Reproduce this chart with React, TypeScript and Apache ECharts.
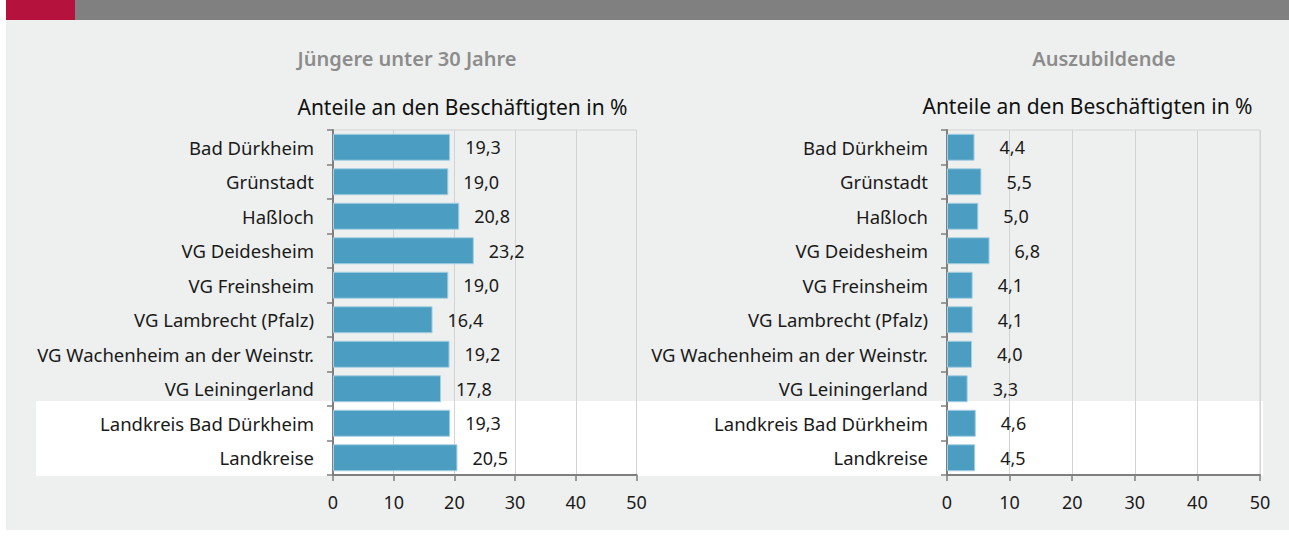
import React, { useEffect, useRef } from "react";
import * as echarts from "echarts";

const categories = [
  "Bad Dürkheim",
  "Grünstadt",
  "Haßloch",
  "VG Deidesheim",
  "VG Freinsheim",
  "VG Lambrecht (Pfalz)",
  "VG Wachenheim an der Weinstr.",
  "VG Leiningerland",
  "Landkreis Bad Dürkheim",
  "Landkreise",
];
const youngShare = [19.3, 19.0, 20.8, 23.2, 19.0, 16.4, 19.2, 17.8, 19.3, 20.5];
const traineeShare = [4.4, 5.5, 5.0, 6.8, 4.1, 4.1, 4.0, 3.3, 4.6, 4.5];
const leftTitle = "Jüngere unter 30 Jahre";
const rightTitle = "Auszubildende";
const subTitle = "Anteile an den Beschäftigten in %";

const FONT = "Noto Sans";
const AXIS_DARK = "#7f7f7f";
const GRID_LIGHT = "#d3d3d3";
const BAR = "#4b9ec1";

function fmt(v: number) {
  return v.toFixed(1).replace(".", ",");
}

export default function App() {
  const ref = useRef<HTMLDivElement>(null);
  useEffect(() => {
    if (!ref.current) return;
    const chart = echarts.init(ref.current, undefined, { renderer: "svg" });
    const xAxisBase = (gridIndex: number) => ({
      type: "value" as const,
      gridIndex,
      min: 0,
      max: 50,
      interval: 10,
      axisLine: { show: true, lineStyle: { color: AXIS_DARK, width: 2 } },
      axisTick: { show: true, length: 6, lineStyle: { color: AXIS_DARK, width: 1.5 } },
      axisLabel: { color: "#1a1a1a", fontFamily: FONT, fontSize: 18, margin: 18 },
      splitLine: { show: true, lineStyle: { color: GRID_LIGHT, width: 1 } },
    });
    const yAxisBase = (gridIndex: number) => ({
      type: "category" as const,
      gridIndex,
      data: categories,
      inverse: true,
      axisLine: { show: true, lineStyle: { color: AXIS_DARK, width: 2 } },
      axisTick: { show: true, length: 6, lineStyle: { color: AXIS_DARK, width: 1.5 } },
      axisLabel: { color: "#1a1a1a", fontFamily: FONT, fontSize: 18.5, margin: 19 },
      splitLine: { show: false },
    });
    const barSeries = (idx: number, data: number[], dist: number) => ({
      type: "bar" as const,
      xAxisIndex: idx,
      yAxisIndex: idx,
      data,
      barWidth: 27,
      itemStyle: { color: BAR, borderColor: "#a6cfe2", borderWidth: 1 },
      label: {
        show: true,
        position: "right" as const,
        distance: dist,
        color: "#1a1a1a",
        fontFamily: FONT,
        fontSize: 18,
        formatter: (p: any) => fmt(p.value),
      },
    });
    chart.setOption({
      animation: false,
      backgroundColor: "#ffffff",
      grid: [
        { left: 333, right: 1289 - 636.5, top: 130, bottom: 539 - 475, show: true, borderColor: GRID_LIGHT, borderWidth: 1, backgroundColor: "transparent" },
        { left: 947, right: 1289 - 1260, top: 130, bottom: 539 - 475, show: true, borderColor: GRID_LIGHT, borderWidth: 1, backgroundColor: "transparent" },
      ],
      xAxis: [xAxisBase(0), xAxisBase(1)],
      yAxis: [yAxisBase(0), yAxisBase(1)],
      series: [barSeries(0, youngShare, 15), barSeries(1, traineeShare, 25)],
      graphic: [
        { type: "rect", z: -10, shape: { x: 6, y: 20, width: 1283, height: 510 }, style: { fill: "#eef0ef" } },
        { type: "rect", z: -10, shape: { x: 6, y: 0, width: 69, height: 20 }, style: { fill: "#b5123e" } },
        { type: "rect", z: -10, shape: { x: 75, y: 0, width: 1214, height: 20 }, style: { fill: "#808080" } },
        { type: "rect", z: -9, shape: { x: 36, y: 401, width: 1227, height: 75 }, style: { fill: "#ffffff" } },
        {
          type: "text", z: 10, x: 407, y: 58,
          style: { text: leftTitle, fill: "#8c8c8c", font: `600 20px "${FONT}"`, textAlign: "center", textVerticalAlign: "middle" },
        },
        {
          type: "text", z: 10, x: 1104, y: 58,
          style: { text: rightTitle, fill: "#8c8c8c", font: `600 20px "${FONT}"`, textAlign: "center", textVerticalAlign: "middle" },
        },
        {
          type: "text", z: 10, x: 462.5, y: 107,
          style: { text: subTitle, fill: "#111111", font: `21px "${FONT}"`, textAlign: "center", textVerticalAlign: "middle" },
        },
        {
          type: "text", z: 10, x: 1087.5, y: 106,
          style: { text: subTitle, fill: "#111111", font: `21px "${FONT}"`, textAlign: "center", textVerticalAlign: "middle" },
        },
      ],
    });
    return () => chart.dispose();
  }, []);
  return (
    <div
      ref={ref}
      style={{ position: "fixed", left: 0, top: 0, width: 1289, height: 539 }}
    />
  );
}
